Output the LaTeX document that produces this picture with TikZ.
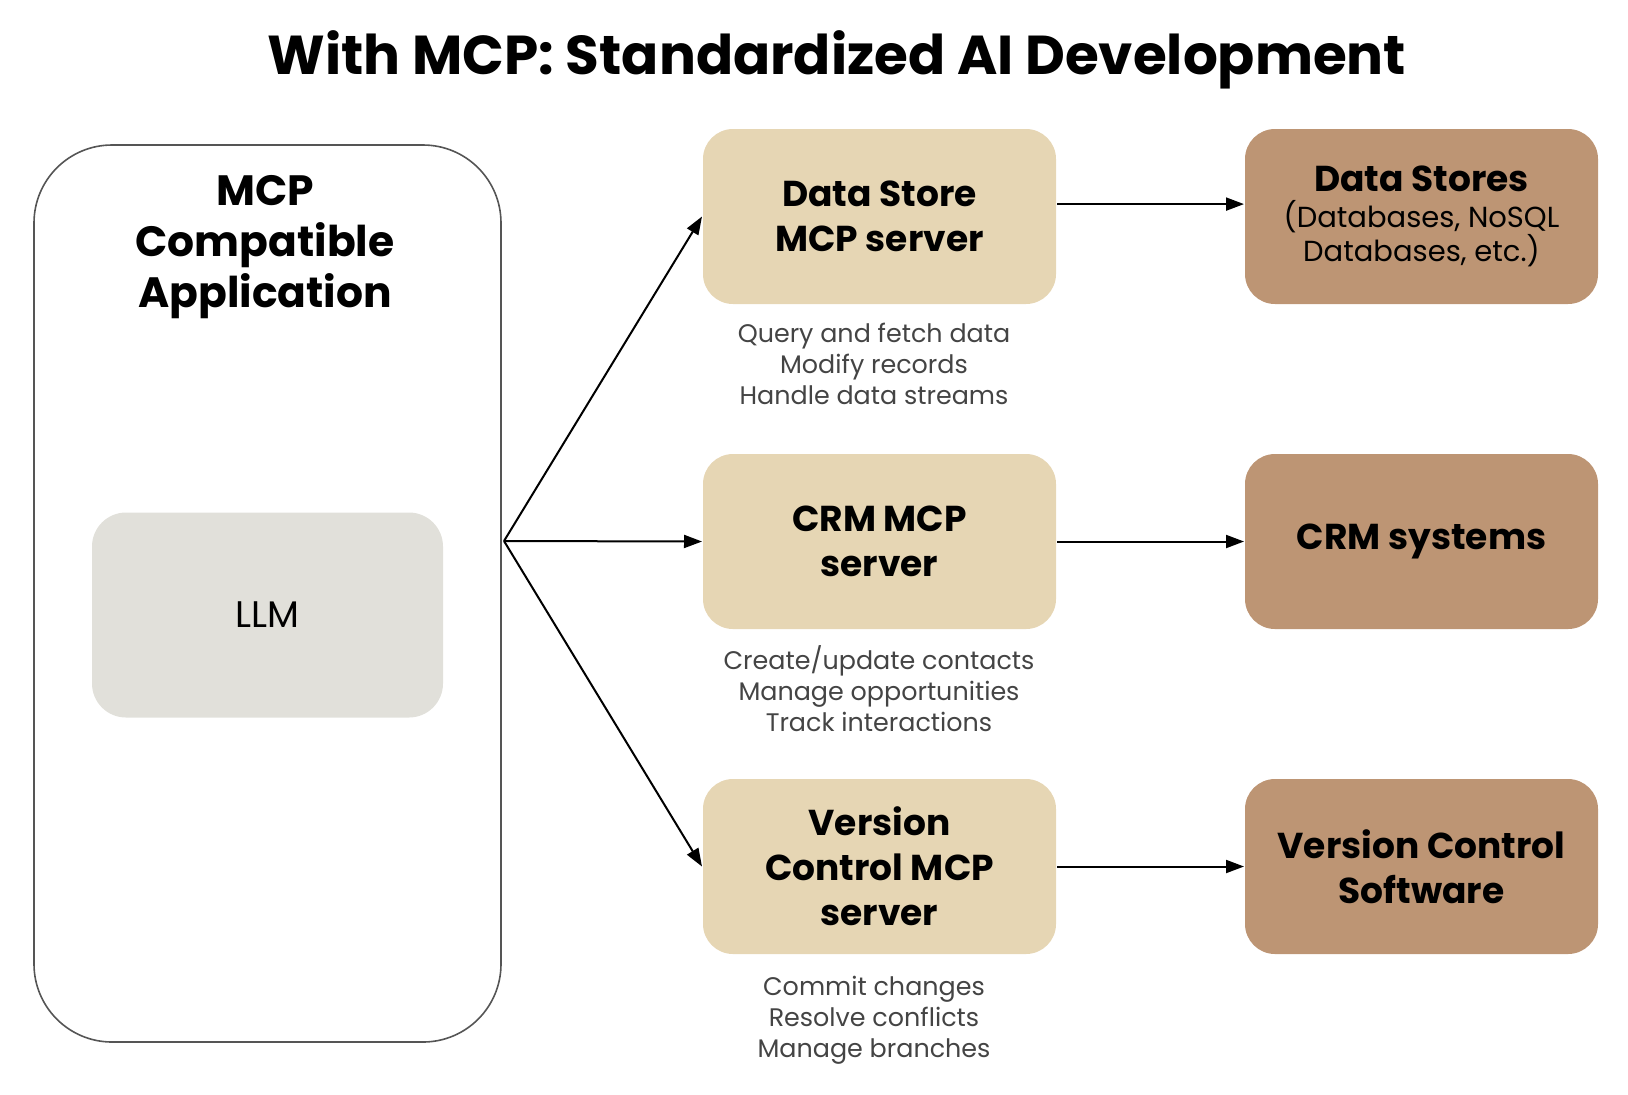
\documentclass[tikz,border=0pt]{standalone}
\usepackage{fontspec}
\setmainfont{Poppins}
\usetikzlibrary{arrows.meta}

\definecolor{servercol}{HTML}{E6D6B4}
\definecolor{targetcol}{HTML}{BD9574}
\definecolor{llmcol}{HTML}{E1E0DA}
\definecolor{notecol}{HTML}{444444}
\definecolor{framecol}{HTML}{555555}

\newcommand{\subline}{\fontsize{14.5}{17}\selectfont\mdseries}

\begin{document}
\begin{tikzpicture}[x = 0.5pt, y = -0.5pt, line width = 1pt,
                    server/.style  = {rectangle, rounded corners = 15pt, fill = servercol, minimum width = 176.5pt, minimum height = 87.5pt, align = center, font = \fontsize{18}{22.5}\selectfont\bfseries},
                    target/.style  = {server, fill = targetcol},
                    note/.style    = {align = center, text = notecol, font = \fontsize{12.7}{15.5}\selectfont},
                    arr/.style     = {-{Triangle[length = 9pt, width = 6.5pt]}}
                    ]
    \useasboundingbox (0, 0) rectangle (1628, 1094);

    \node[font = \fontsize{27.4}{33}\selectfont\bfseries] (title) at (837, 60) {With MCP: Standardized AI Development};

    % application side
    \node[draw = framecol, line width = 0.8pt, rounded corners = 39pt, minimum width = 233.5pt, minimum height = 448.5pt] (app) at (267.5, 593.5) {};
    \node[align = center, font = \fontsize{21.2}{25.5}\selectfont\bfseries] (applbl) at (265, 247) {MCP\\Compatible\\Application};
    \node[rectangle, rounded corners = 17pt, fill = llmcol, minimum width = 175.5pt, minimum height = 102.5pt, font = \fontsize{18.5}{22}\selectfont] (llm) at (267.5, 615) {LLM};
    \coordinate (fan) at (504, 541);

    % servers
    \node[server] (ds)  at (879.5, 216.5) {Data Store\\MCP server};
    \node[server] (crm) at (879.5, 541.5) {CRM MCP\\server};
    \node[server] (vc)  at (879.5, 866.5) {Version\\Control MCP\\server};

    \node[note] (dsnote)  at (874, 364)  {Query and fetch data\\Modify records\\Handle data streams};
    \node[note] (crmnote) at (879, 689)  {Create/update contacts\\Manage opportunities\\Track interactions};
    \node[note] (vcnote)  at (874, 1020) {Commit changes\\Resolve conflicts\\Manage branches};

    % backends
    \node[target] (dstore) at (1421.5, 216.5) {Data Stores\\[-4.7pt]\subline (Databases, NoSQL\\[-5.2pt]\subline Databases, etc.)};
    \node[target] (crmsys) at (1421.5, 541.5) {CRM systems};
    \node[target] (vcsoft) at (1421.5, 866.5) {Version Control\\Software};

    \draw[arr] (fan) -- (ds.west);
    \draw[arr] (fan) -- (crm.west);
    \draw[arr] (fan) -- (vc.west);

    \draw[arr] (ds.4) -- (dstore.176);
    \draw[arr] (crm) -- (crmsys);
    \draw[arr] (vc) -- (vcsoft);
\end{tikzpicture}
\end{document}
